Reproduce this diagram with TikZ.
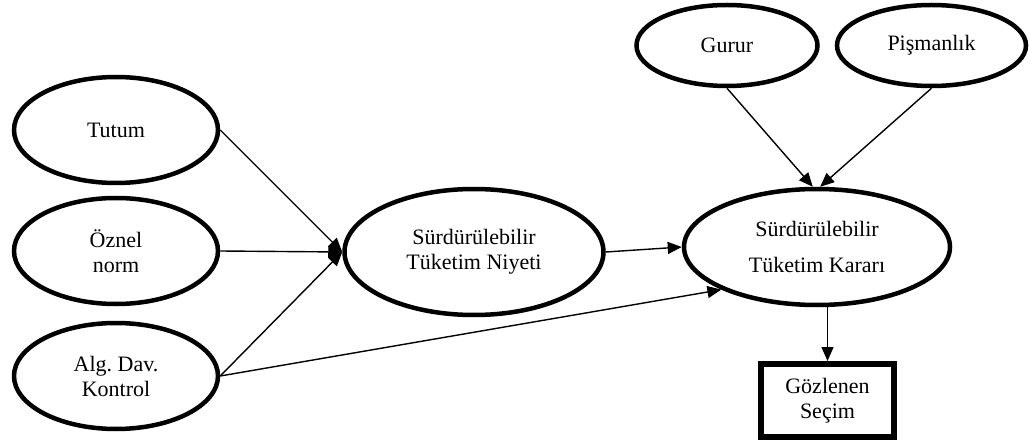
\documentclass[tikz,border=0pt]{standalone}
\usepackage{fontspec}
\setmainfont{Liberation Serif}
\usetikzlibrary{shapes.geometric,arrows.meta}
\frenchspacing
\begin{document}
\begin{tikzpicture}[x=1pt,y=-1pt,
  construct/.style={ellipse,draw,line width=4.5pt,inner sep=0pt,align=center,
    font=\fontsize{22}{25}\selectfont},
  obsbox/.style={rectangle,draw,line width=6pt,inner sep=0pt,align=center,
    minimum width=133pt,minimum height=73pt,font=\fontsize{22}{25}\selectfont},
  arr/.style={line width=1.4pt,-{Triangle[length=14pt,width=12pt]}}]
\useasboundingbox (0,0) rectangle (1030,446);

% exogenous constructs
\node[construct,minimum width=204pt,minimum height=106pt] (tutum) at (116,130) {Tutum};
\node[construct,minimum width=204pt,minimum height=106pt] (ozn) at (116,251) {Öznel\\norm};
\node[construct,minimum width=204pt,minimum height=106pt] (alg) at (116,376) {Alg. Dav.\\Kontrol};

% intention and decision
\node[construct,minimum width=259pt,minimum height=126pt] (niyet) at (474,252) {Sürdürülebilir\\Tüketim Niyeti};
\node[construct,minimum width=266pt,minimum height=116pt,
  font=\fontsize{22}{36}\selectfont] (karar) at (817,247) {Sürdürülebilir\\Tüketim Kararı};

% anticipated emotions
\node[construct,minimum width=181pt,minimum height=81pt] (gurur) at (727,45.5) {Gurur};
\node[construct,minimum width=189pt,minimum height=81pt] (pisman) at (931.5,45.5) {Pişmanlık};

% observed outcome
\node[obsbox] (secim) at (827.5,400.5) {Gözlenen\\Seçim};

% paths
\draw[arr] (tutum.east) -- (niyet.west);
\draw[arr] (ozn.east) -- (niyet.west);
\draw[arr] (alg.east) -- (niyet.west);
\draw[arr] (niyet.east) -- (karar.west);
\draw[arr] (alg.east) -- (karar.south west);
\draw[arr] (gurur.south) -- (karar.94);
\draw[arr] (pisman.south) -- (karar.87);
\draw[arr] (secim.north |- karar.south) -- (secim.north);
\end{tikzpicture}
\end{document}
